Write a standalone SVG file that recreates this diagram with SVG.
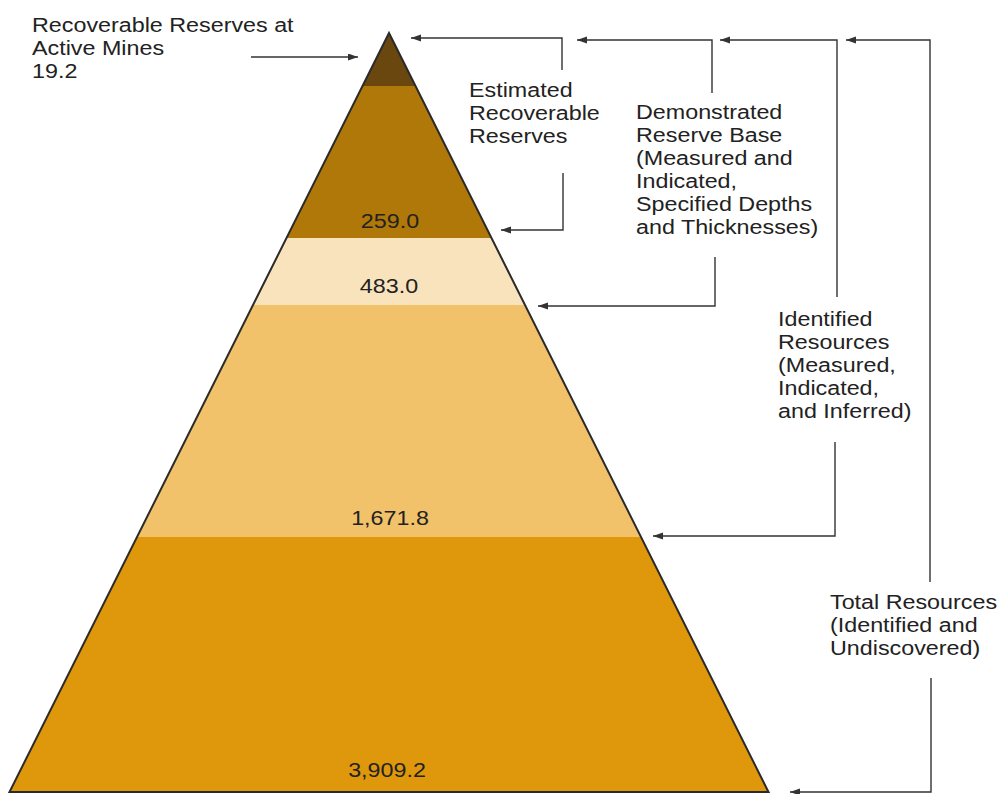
<svg xmlns="http://www.w3.org/2000/svg" width="1001" height="794" viewBox="0 0 1001 794">
<style>
.t{font-family:"Liberation Sans",Arial,sans-serif;font-size:21px;fill:#222}
.c{fill:none;stroke:#333;stroke-width:1.4}
</style>
<defs>
<marker id="ah" markerUnits="userSpaceOnUse" markerWidth="11" markerHeight="8" refX="10" refY="3.5" orient="auto">
<path d="M0,0 L10,3.5 L0,7 z" fill="#333"/>
</marker>
</defs>
<rect width="1001" height="794" fill="#fff"/>
<g id="pyramid">
<polygon id="band-active" points="389,33 415.5,86 362.5,86" fill="#6b4710"/>
<polygon id="band-recoverable" points="362.5,86 415.5,86 491.5,238 286.5,238" fill="#b07808"/>
<polygon id="band-reserve-base" points="286.5,238 491.5,238 525,305 253,305" fill="#f8e3bd"/>
<polygon id="band-identified" points="253,305 525,305 641,537 137,537" fill="#f2c26a"/>
<polygon id="band-total" points="137,537 641,537 768.5,792 9.5,792" fill="#df980b"/>
<polygon points="389,33 768.5,792 9.5,792" fill="none" stroke="#2a2a2a" stroke-width="2" stroke-linejoin="miter"/>
<text class="t" text-anchor="middle" transform="translate(390,228) scale(1.11,1)">259.0</text>
<text class="t" text-anchor="middle" transform="translate(389,293) scale(1.11,1)">483.0</text>
<text class="t" text-anchor="middle" transform="translate(390,525) scale(1.11,1)">1,671.8</text>
<text class="t" text-anchor="middle" transform="translate(387,777) scale(1.11,1)">3,909.2</text>
</g>
<g id="connectors">
<path class="c" d="M251,57 H358" marker-end="url(#ah)"/>
<path class="c" d="M562,70 V38 H411" marker-end="url(#ah)"/>
<path class="c" d="M563,173 V230 H501" marker-end="url(#ah)"/>
<path class="c" d="M712,93 V40 H577" marker-end="url(#ah)"/>
<path class="c" d="M715,257 V306 H538" marker-end="url(#ah)"/>
<path class="c" d="M837,297 V40 H720" marker-end="url(#ah)"/>
<path class="c" d="M835,442 V536 H653" marker-end="url(#ah)"/>
<path class="c" d="M930,582 V40 H846" marker-end="url(#ah)"/>
<path class="c" d="M931,678 V792 H790" marker-end="url(#ah)"/>
</g>
<g id="label-active-mines">
<text class="t" transform="translate(32,32) scale(1.11,1)"><tspan x="0" y="0">Recoverable Reserves at</tspan><tspan x="0" y="23">Active Mines</tspan><tspan x="0" y="46">19.2</tspan></text>
</g>
<g id="label-estimated">
<text class="t" transform="translate(469,97) scale(1.11,1)"><tspan x="0" y="0">Estimated</tspan><tspan x="0" y="23">Recoverable</tspan><tspan x="0" y="46">Reserves</tspan></text>
</g>
<g id="label-demonstrated">
<text class="t" transform="translate(636,119) scale(1.11,1)"><tspan x="0" y="0">Demonstrated</tspan><tspan x="0" y="23">Reserve Base</tspan><tspan x="0" y="46">(Measured and</tspan><tspan x="0" y="69">Indicated,</tspan><tspan x="0" y="92">Specified Depths</tspan><tspan x="0" y="115">and Thicknesses)</tspan></text>
</g>
<g id="label-identified">
<text class="t" transform="translate(778,326) scale(1.11,1)"><tspan x="0" y="0">Identified</tspan><tspan x="0" y="23">Resources</tspan><tspan x="0" y="46">(Measured,</tspan><tspan x="0" y="69">Indicated,</tspan><tspan x="0" y="92">and Inferred)</tspan></text>
</g>
<g id="label-total">
<text class="t" transform="translate(830,609) scale(1.11,1)"><tspan x="0" y="0">Total Resources</tspan><tspan x="0" y="23">(Identified and</tspan><tspan x="0" y="46">Undiscovered)</tspan></text>
</g>
</svg>
